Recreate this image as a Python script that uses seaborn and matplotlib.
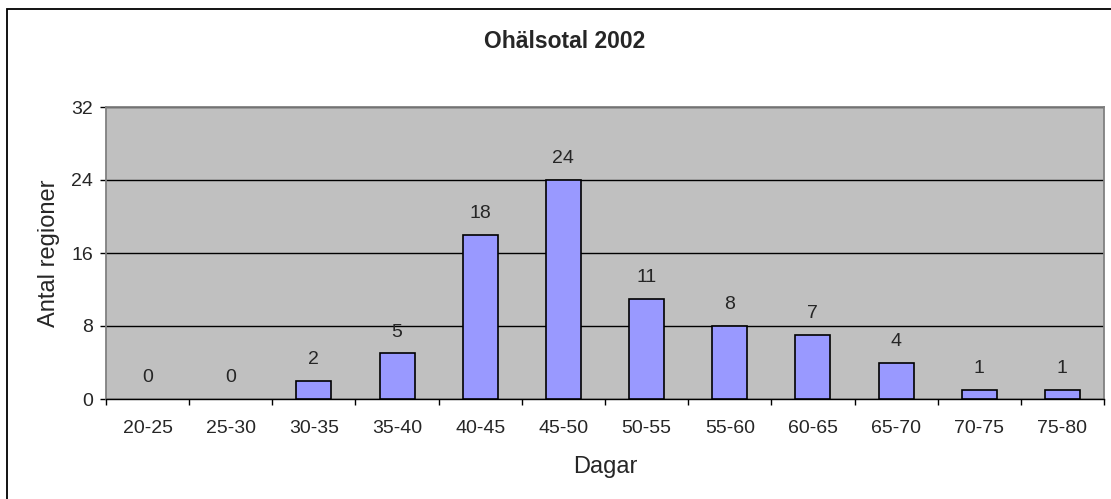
import matplotlib
matplotlib.use("Agg")
import matplotlib.pyplot as plt
import seaborn as sns
import pandas as pd
from matplotlib.patches import Rectangle
from matplotlib.ticker import FixedLocator

# Chart data
categories = ["20-25", "25-30", "30-35", "35-40", "40-45", "45-50",
              "50-55", "55-60", "60-65", "65-70", "70-75", "75-80"]
counts = [0, 0, 2, 5, 18, 24, 11, 8, 7, 4, 1, 1]
y_ticks = [0, 8, 16, 24, 32]

df = pd.DataFrame({"Dagar": categories, "Antal": counts})

sns.set_style("white")
plt.rcParams["font.family"] = ["Liberation Sans", "DejaVu Sans"]

W, H = 1111, 499
fig = plt.figure(figsize=(W / 100, H / 100), dpi=100)
ax = fig.add_axes([106 / W, 1 - 399 / H, (1104 - 106) / W, (399 - 107) / H])
ax.set_facecolor("#C0C0C0")

sns.barplot(data=df, x="Dagar", y="Antal", color="#9999FF", saturation=1,
            edgecolor="black", linewidth=1.2, width=0.42, ax=ax, zorder=3)

# zero bars are not drawn in the original
for p in ax.patches:
    if p.get_height() == 0:
        p.set_linewidth(0)

ax.set_ylim(0, 32)
ax.set_xlim(-0.5, len(categories) - 0.5)
ax.set_yticks(y_ticks)
ax.yaxis.grid(True, color="black", linewidth=1)
ax.set_axisbelow(True)

# value labels above bars
for i, v in enumerate(counts):
    ax.annotate(str(v), (i, v), xytext=(0, 12), textcoords="offset points",
                ha="center", va="baseline", fontsize=14)

# ticks at category boundaries, labels centred
ax.xaxis.set_minor_locator(FixedLocator([i - 0.5 for i in range(len(categories) + 1)]))
ax.tick_params(axis="x", which="major", length=0, pad=15, labelsize=14)
ax.tick_params(axis="x", which="minor", length=4.5, width=1, color="black", direction="out")
ax.tick_params(axis="y", length=4.5, width=1, color="black", direction="out", labelsize=14, pad=5)
ax.xaxis.set_tick_params(bottom=True, which="both")
ax.yaxis.set_tick_params(left=True)

for side in ["top", "right", "left"]:
    ax.spines[side].set_color("#808080")
    ax.spines[side].set_linewidth(1.3)
ax.spines["bottom"].set_color("black")
ax.spines["bottom"].set_linewidth(1)

ax.set_xlabel("Dagar", fontsize=17)
ax.xaxis.label.set_va("baseline")
ax.xaxis.set_label_coords(0.5, (399 - 473) / 292)
ax.set_ylabel("Antal regioner", fontsize=17)
ax.yaxis.label.set_va("center")
ax.yaxis.set_label_coords((49 - 106) / 998, 0.5)

fig.text(565 / W, 1 - 48 / H, "Ohälsotal 2002", ha="center", va="baseline",
         fontsize=16.5, fontweight="bold")

# outer chart frame (right and bottom edges fall outside the image)
fig.patches.append(Rectangle((7 / W, -0.05), 1.1, 1 - 9 / H + 0.05,
                             transform=fig.transFigure, fill=False,
                             edgecolor="black", linewidth=1.3))

fig.savefig("out.png", dpi=100)
